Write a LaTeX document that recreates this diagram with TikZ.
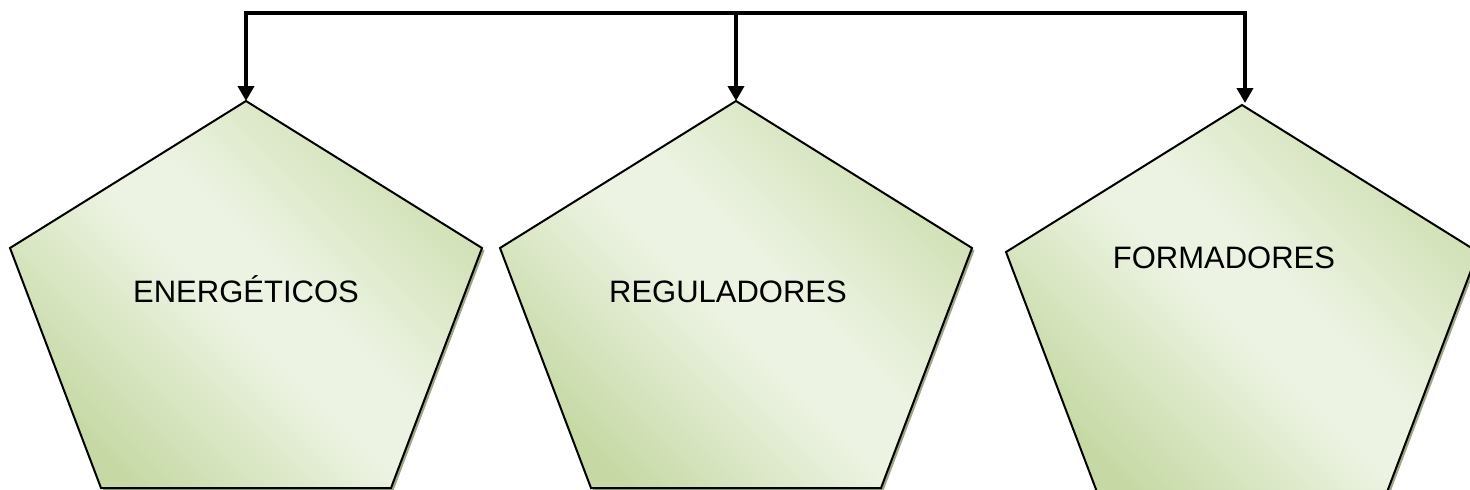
\documentclass[tikz,border=0pt]{standalone}
\usepackage{fontspec}
\setmainfont{Liberation Sans}
\usetikzlibrary{arrows.meta}
\definecolor{gdark}{RGB}{198,217,164}
\definecolor{gdarkb}{RGB}{207,223,178}
\definecolor{glight}{RGB}{236,243,226}
\definecolor{shadowc}{RGB}{158,168,128}
\pgfdeclarehorizontalshading{pentgrad}{100bp}{color(0bp)=(gdark); color(25bp)=(gdark); color(47bp)=(glight); color(55bp)=(glight); color(75bp)=(gdarkb); color(100bp)=(gdarkb)}
\tikzset{
  pentshade/.style={shading=pentgrad, shading angle=45},
  pentline/.style={draw=black, line width=2pt, line join=miter},
  pentshadow/.style={fill=shadowc},
  conn/.style={line width=4pt, line join=miter, -{Triangle[width=16pt,length=15pt]}},
  lbl/.style={font=\fontsize{31}{36}\selectfont, anchor=base, inner sep=0pt}
}
\newcommand{\pentpath}[2]{(#1,#2) -- ++(236,-147) -- ++(-91,-240) -- ++(-290,0) -- ++(-91,240) -- cycle}
\begin{document}
\begin{tikzpicture}[x=1pt,y=1pt]
\useasboundingbox (0,0) rectangle (1470,-490);
\clip (0,0) rectangle (1470,-490);
% pentagons
\foreach \cx/\ty in {246/-101, 736/-101, 1242/-105}{
  \fill[pentshadow] \pentpath{\cx+2.5}{\ty-2.5};
  \shade[pentshade] \pentpath{\cx}{\ty};
  \draw[pentline] \pentpath{\cx}{\ty};
}
\coordinate (p1top) at (246,-101);
\coordinate (p2top) at (736,-101);
\coordinate (p3top) at (1245,-103);
\coordinate (bus) at (0,-13);
% labels
\node[lbl] (t1) at (246,-302) {ENERGÉTICOS};
\node[lbl] (t2) at (728,-302) {REGULADORES};
\node[lbl] (t3) at (1224,-268) {FORMADORES};
% connectors
\draw[line width=4pt, line join=miter] (p1top |- bus) -- (p3top |- bus);
\draw[conn] ([yshift=2pt]p1top |- bus) -- (p1top);
\draw[conn] (p2top |- bus) -- (p2top);
\draw[conn] ([yshift=2pt]p3top |- bus) -- (p3top);
\end{tikzpicture}
\end{document}
